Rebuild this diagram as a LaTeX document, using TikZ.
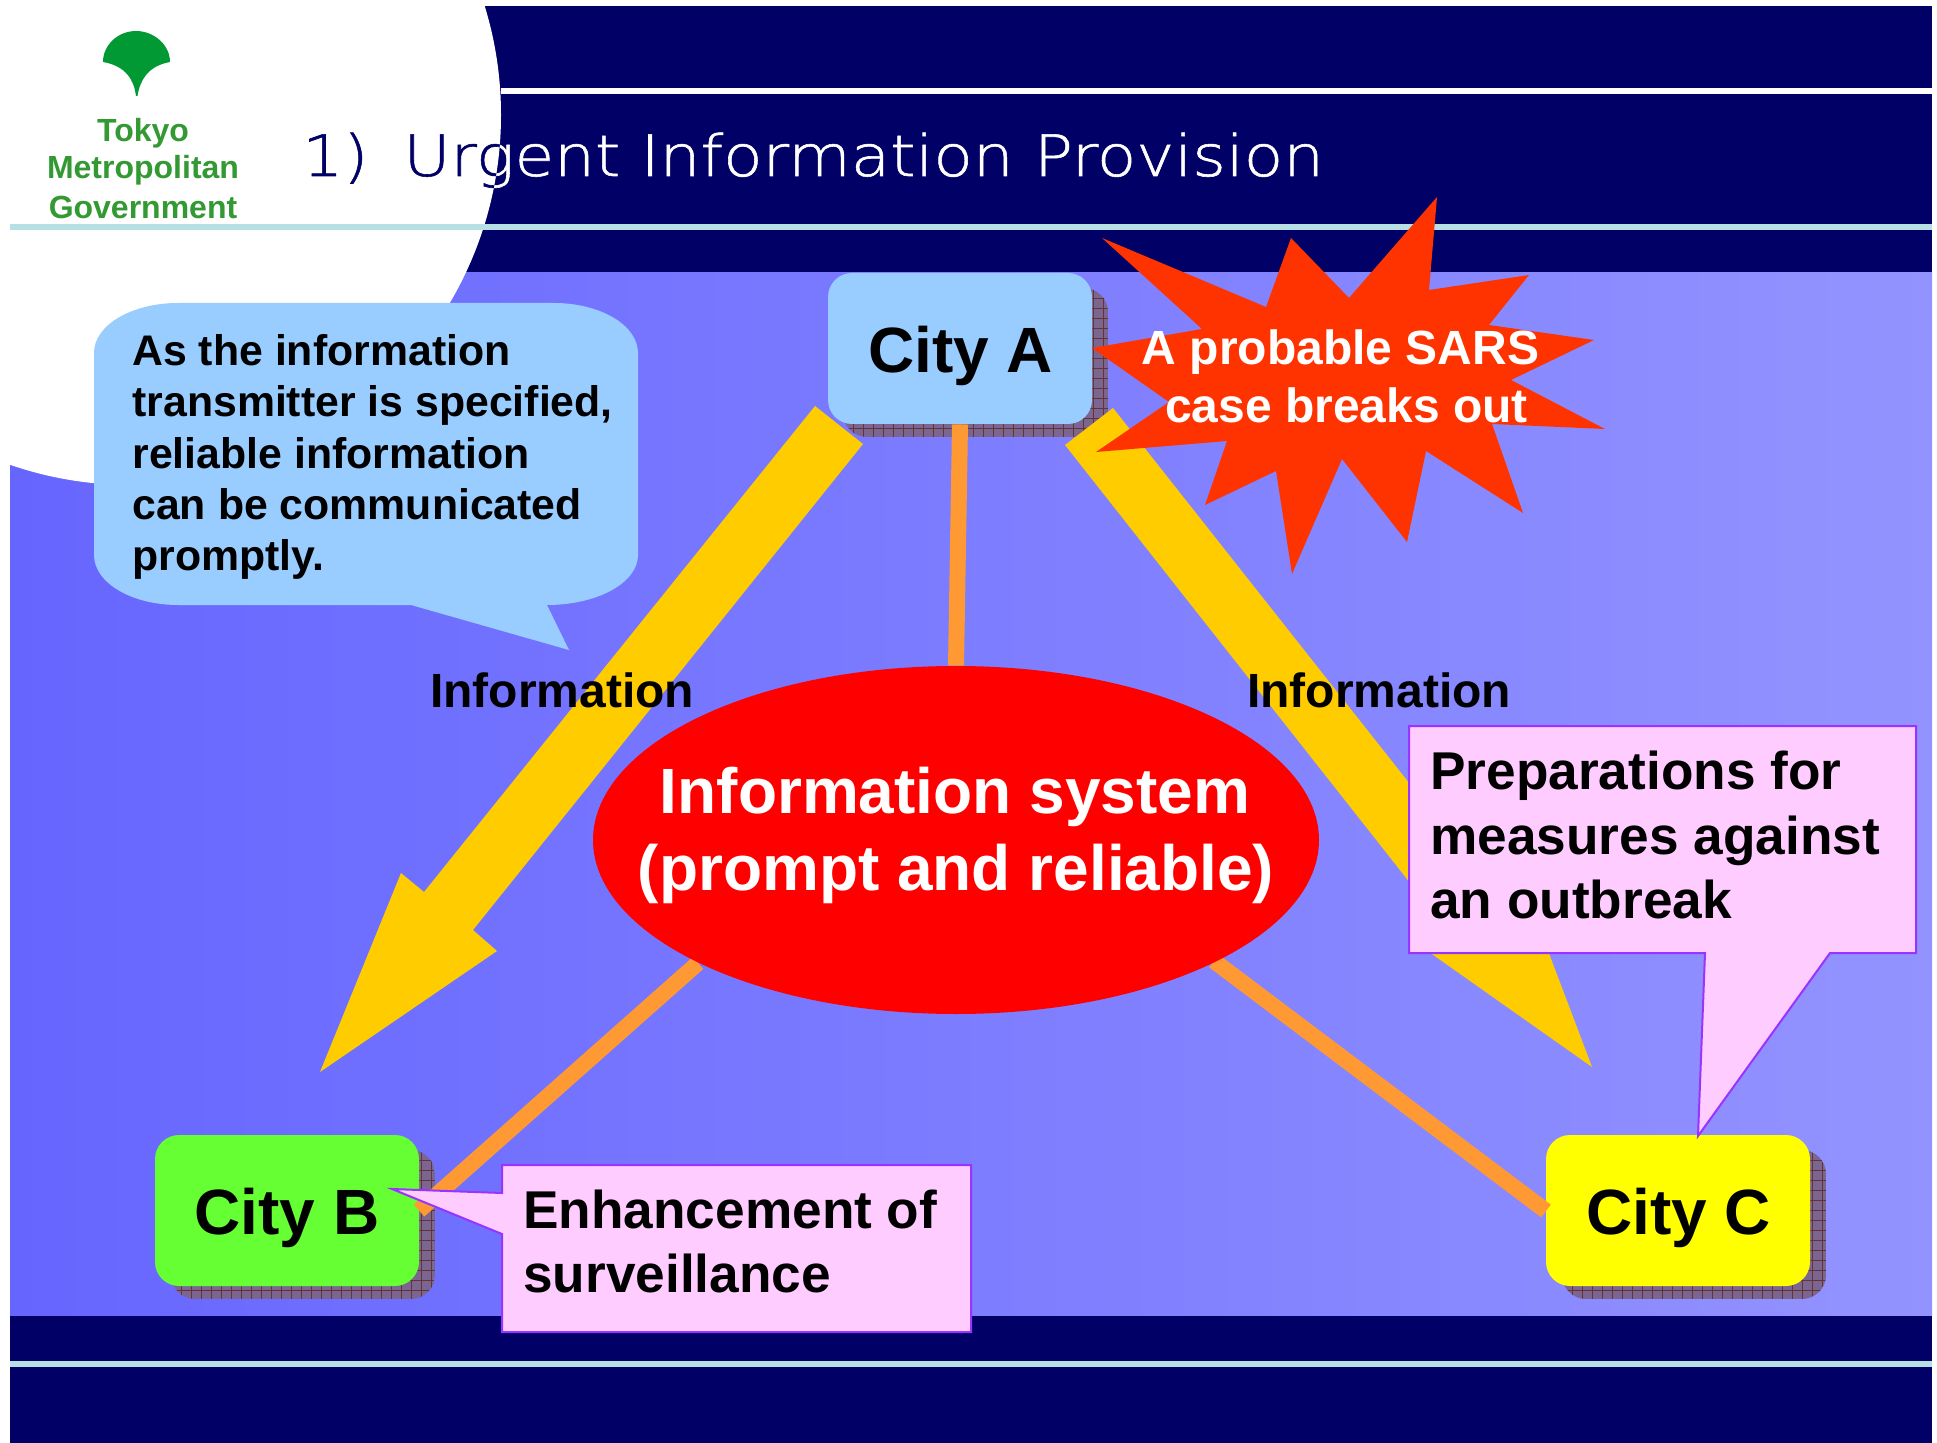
\documentclass[tikz,border=0pt]{standalone}
\usepackage{fontspec}
\usetikzlibrary{shapes.geometric}
\setmainfont{Liberation Sans}
\newfontfamily\titlefont[FakeStretch=1.13,FakeBold=1]{DejaVu Sans ExtraLight}
\definecolor{navyb}{HTML}{000066}
\definecolor{lightl}{HTML}{B8E0E4}
\definecolor{bluel}{HTML}{6666FF}
\definecolor{bluer}{HTML}{9393FF}
\definecolor{calloutb}{HTML}{99CCFF}
\definecolor{yellowa}{HTML}{FFCC00}
\definecolor{yellowb}{HTML}{FFFF00}
\definecolor{greenb}{HTML}{66FF33}
\definecolor{orangel}{HTML}{FF9933}
\definecolor{pinkc}{HTML}{FFCCFF}
\definecolor{purplec}{HTML}{9933FF}
\definecolor{starr}{HTML}{FF3300}
\definecolor{logog}{HTML}{009933}
\definecolor{logot}{HTML}{339933}
\definecolor{shadowf}{HTML}{7A6690}
\definecolor{shadowl}{HTML}{663333}
\newcommand{\fs}[1]{\fontsize{#1}{#1}\selectfont\bfseries}
\newcommand{\titletext}{1)\kern-3pt\ \ Urgent Information Provision}
\tikzset{
  x=0.5pt,y=-0.5pt,
  citybox/.style={draw=none,rounded corners=12pt,minimum height=75.5pt,inner sep=0pt},
  orangeline/.style={draw=orangel,line width=8pt},
  yarrow/.style={fill=yellowa},
  pinkbox/.style={fill=pinkc,draw=purplec,line width=1pt,line join=miter},
  boldlabel/.style={inner sep=0pt,anchor=base,font=\fs{24}},
  citylabel/.style={inner sep=0pt,anchor=base,font=\fs{32}},
  plaintext/.style={inner sep=0pt,anchor=base west,align=left},
  logotext/.style={inner sep=0pt,anchor=base,text=logot,font=\fs{16}},
  titlenode/.style={inner sep=0pt,anchor=base west,font=\titlefont\fontsize{28.5}{28.5}\selectfont},
}
\newcommand{\shadowbox}[4]{% x0 y0 x1 y1
  \begin{scope}
    \path[clip,rounded corners=12pt] (#1,#2) rectangle (#3,#4);
    \fill[shadowf] (#1,#2) rectangle (#3,#4);
    \foreach \k in {0,10,...,300}{\draw[shadowl,line width=.35pt] ({#1+\k},#2) -- ({#1+\k},#4);}
    \foreach \k in {0,10,...,170}{\draw[shadowl,line width=.35pt] (#1,{#2+\k}) -- (#3,{#2+\k});}
  \end{scope}}
\begin{document}
\begin{tikzpicture}
\useasboundingbox (0,0) rectangle (1937,1443);
\fill[white] (0,0) rectangle (1937,1443);
% background
\fill[navyb] (10,6) rectangle (1932,1443);
\fill[left color=bluel,right color=bluer] (10,273) rectangle (1932,1315);
\fill[white] (131,115) circle[radius=370];
\fill[white] (0,0) rectangle (10,480);
\fill[white] (0,0) rectangle (500,6);
\fill[white] (501,88) rectangle (1932,94);
\fill[lightl] (10,224) rectangle (1932,230);
\fill[lightl] (10,1361) rectangle (1932,1367);
% title
\node[titlenode,text=white] (title) at (302,176) {\titletext};
\begin{scope}
\clip (131,115) circle[radius=370];
\node[titlenode,text=navyb] (titleb) at (302,176) {\titletext};
\end{scope}
% logo
\fill[logog] (136,96) .. controls (134,80) and (126,66) .. (103,62)
  .. controls (103,45) and (118,31) .. (136,31) .. controls (154,31) and (170,45) .. (170,62)
  .. controls (148,66) and (140,80) .. (137.5,96) -- cycle;
\node[logotext] (logo1) at (143,142) {Tokyo};
\node[logotext] (logo2) at (143,179) {Metropolitan};
\node[logotext] (logo3) at (143,219) {Government};
% blue callout
\fill[calloutb] (178,303) -- (554,303) .. controls (600,303) and (638,325) .. (638,353)
  -- (638,555) .. controls (638,583) and (597,605) .. (547,605) -- (569,650) -- (411,605) -- (178,605)
  .. controls (132,605) and (94,583) .. (94,555) -- (94,353) .. controls (94,325) and (132,303) .. (178,303) -- cycle;
\node[plaintext,font=\fs{21.4}] (note1) at (132,366) {As the information};
\node[plaintext,font=\fs{21.4}] (note2) at (132,417) {transmitter is specified,};
\node[plaintext,font=\fs{21.4}] (note3) at (132,469) {reliable information};
\node[plaintext,font=\fs{21.4}] (note4) at (132,520) {can be communicated};
\node[plaintext,font=\fs{21.4}] (note5) at (132,570) {promptly.};
% shadows
\shadowbox{843}{288}{1108}{437}
\shadowbox{171}{1150}{435}{1299}
\shadowbox{1562}{1150}{1826}{1299}
% cities
\node[citybox,fill=calloutb,minimum width=132pt] (cityA) at (960,348.5) {};
\node[citybox,fill=greenb,minimum width=132pt] (cityB) at (287,1210.5) {};
\node[citybox,fill=yellowb,minimum width=132pt] (cityC) at (1678,1210.5) {};
\node[citylabel] (labelA) at (960.5,373) {City A};
\node[citylabel] (labelB) at (287,1234) {City B};
\node[citylabel] (labelC) at (1678.5,1234) {City C};
% ellipse anchor
\node[ellipse,minimum width=363pt,minimum height=174pt,inner sep=0pt] (infosys) at (956,840) {};
% connectors
\coordinate (bEnd) at (419,1210.5);
\coordinate (cEnd) at (1546,1211);
\draw[orangeline] (cityA.south) -- (infosys.north);
\draw[orangeline] (infosys.center) ++(-258,123) -- (bEnd);
\draw[orangeline] (infosys.center) ++(258,121) -- (cEnd);
% arrows
\fill[yarrow] (815,406) -- (863,444) -- (473,930) -- (497,951) -- (320,1072) -- (401,873) -- (424,892) -- cycle;
\fill[yarrow] (1113,408) -- (1065,445) -- (1444,926) -- (1419,945) -- (1592,1067) -- (1517,869) -- (1492,888) -- cycle;
% star
\fill[starr] (1437,197) -- (1429,290) -- (1529,275) -- (1489,325) -- (1594,340) -- (1511,380) -- (1605,429) -- (1492,424) -- (1523,513) -- (1426,451) -- (1407,542) -- (1342,459) -- (1292,574) -- (1276,471) -- (1205,505) -- (1227,441) -- (1096,452) -- (1169,402) -- (1092,348) -- (1202,329) -- (1102,238) -- (1266,307) -- (1291,238) -- (1349,298) -- cycle;
\node[boldlabel,text=white] (sars1) at (1340.5,365) {A probable SARS};
\node[boldlabel,text=white] (sars2) at (1346.5,423) {case breaks out};
% ellipse
\node[ellipse,fill=red,minimum width=363pt,minimum height=174pt,inner sep=0pt] (infosysf) at (956,840) {};
\node[inner sep=0pt,anchor=base,text=white,font=\fs{32}] (sys1) at (955,813.5) {Information system};
\node[inner sep=0pt,anchor=base,text=white,font=\fs{32}] (sys2) at (956,890) {(prompt and reliable)};
% labels
\node[boldlabel] (info1) at (562,707) {Information};
\node[boldlabel] (info2) at (1379,707) {Information};
% pink callouts
\draw[pinkbox] (1409,726) -- (1916,726) -- (1916,953) -- (1830,953) -- (1698,1136) -- (1705,953) -- (1409,953) -- cycle;
\node[plaintext,font=\fs{26.6}] (prep1) at (1430,789) {Preparations for};
\node[plaintext,font=\fs{26.6}] (prep2) at (1430,854) {measures against};
\node[plaintext,font=\fs{26.6}] (prep3) at (1430,918) {an outbreak};
\draw[pinkbox] (502,1165) -- (971,1165) -- (971,1332) -- (502,1332) -- (502,1234) -- (392,1189) -- (502,1193) -- cycle;
\node[plaintext,font=\fs{26.6}] (enh1) at (523,1228) {Enhancement of};
\node[plaintext,font=\fs{26.6}] (enh2) at (523,1292) {surveillance};
\end{tikzpicture}
\end{document}
